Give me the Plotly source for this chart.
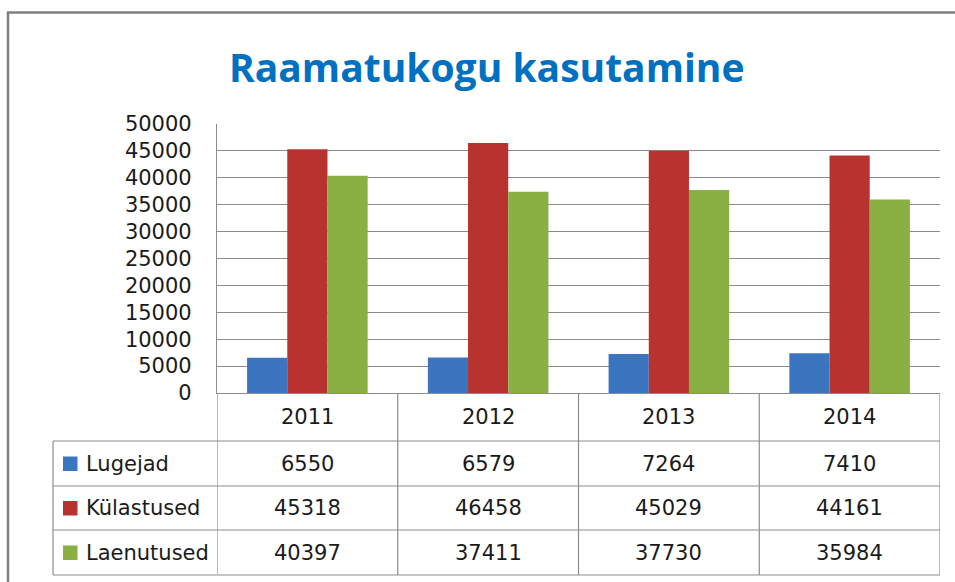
import plotly.graph_objects as go

# ---- data ----
years = ["2011", "2012", "2013", "2014"]
series_names = ["Lugejad", "Külastused", "Laenutused"]
lugejad = [6550, 6579, 7264, 7410]
kulastused = [45318, 46458, 45029, 44161]
laenutused = [40397, 37411, 37730, 35984]
y_ticks = [0, 5000, 10000, 15000, 20000, 25000, 30000, 35000, 40000, 45000, 50000]
title_text = "Raamatukogu kasutamine"

series_values = [lugejad, kulastused, laenutused]
colors = ["#3b75bf", "#b8332f", "#8aaf42"]

W, H = 955, 582
PL, PR, PT, PB = 217, 940, 124, 393  # plot area pixels


def xp(px):
    return (px - PL) / (PR - PL)


def yp(py):
    return (PB - py) / (PB - PT)


FONT = "DejaVu Sans"
GRID = "#8c8c8c"
TXT = "#1a1a1a"

fig = go.Figure()
for name, vals, col in zip(series_names, series_values, colors):
    fig.add_trace(go.Bar(x=years, y=vals, name=name, marker=dict(color=col, line=dict(width=0)),
                         showlegend=False))

shapes = []
annotations = []

# outer chart border (left and top visible)
shapes.append(dict(type="line", xref="paper", yref="paper", x0=xp(8), x1=xp(8), y0=yp(12), y1=yp(600),
                   line=dict(color="#808080", width=2.5)))
shapes.append(dict(type="line", xref="paper", yref="paper", x0=xp(7), x1=xp(970), y0=yp(12.5), y1=yp(12.5),
                   line=dict(color="#808080", width=2.5)))

# data table lines
row_lines = [441, 486, 530, 575]
for ry in row_lines:
    shapes.append(dict(type="line", xref="paper", yref="paper", x0=xp(53), x1=xp(PR), y0=yp(ry), y1=yp(ry),
                       line=dict(color=GRID, width=1.2)))
shapes.append(dict(type="line", xref="paper", yref="paper", x0=xp(53), x1=xp(53), y0=yp(441), y1=yp(575),
                   line=dict(color=GRID, width=1.2)))
for i in range(len(years) + 1):
    shapes.append(dict(type="line", xref="x", yref="paper", x0=i - 0.5, x1=i - 0.5, y0=yp(PB), y1=yp(575),
                       line=dict(color=GRID, width=1.2)))

# year header
for i, yr in enumerate(years):
    annotations.append(dict(x=i, y=yp(417), xref="x", yref="paper", text=yr, showarrow=False,
                            font=dict(family=FONT, size=21, color=TXT), xanchor="center", yanchor="middle"))

row_centers = [463.5, 508, 552.5]
for name, vals, col, rc in zip(series_names, series_values, colors, row_centers):
    shapes.append(dict(type="rect", xref="paper", yref="paper", x0=xp(63), x1=xp(77.5), y0=yp(rc - 7), y1=yp(rc + 7.5),
                       fillcolor=col, line=dict(width=0)))
    annotations.append(dict(x=xp(84), y=yp(rc), xref="paper", yref="paper", text=name, showarrow=False,
                            font=dict(family=FONT, size=21, color=TXT), xanchor="left", yanchor="middle"))
    for i, v in enumerate(vals):
        annotations.append(dict(x=i, y=yp(rc), xref="x", yref="paper", text=str(v), showarrow=False,
                                font=dict(family=FONT, size=21, color=TXT), xanchor="center", yanchor="middle"))

# title
annotations.append(dict(x=xp(487), y=yp(66), xref="paper", yref="paper", text="<b>" + title_text + "</b>",
                        showarrow=False, font=dict(family="Open Sans", size=39, color="#0070c0"),
                        xanchor="center", yanchor="middle"))

fig.update_layout(
    width=W, height=H,
    margin=dict(l=PL, r=W - PR, t=PT, b=H - PB, pad=0),
    paper_bgcolor="white", plot_bgcolor="white",
    barmode="group", bargap=0.333, bargroupgap=0,
    shapes=shapes, annotations=annotations,
    xaxis=dict(type="category", range=[-0.5, len(years) - 0.5], autorange=False,
               showticklabels=False, showgrid=False, zeroline=False,
               showline=True, linecolor=GRID, linewidth=1.2, ticks="", mirror=False),
    yaxis=dict(range=[0, 50000], autorange=False, tickvals=y_ticks, ticktext=[str(t) for t in y_ticks],
               showgrid=True, gridcolor=GRID, gridwidth=1.2, zeroline=False,
               showline=True, linecolor=GRID, linewidth=1.2, ticks="",
               tickfont=dict(family=FONT, size=21, color=TXT), ticklabelstandoff=20),
    showlegend=False,
)

fig.write_html("out.html", config={"displayModeBar": False},
               post_script="document.body.style.margin='0';")
